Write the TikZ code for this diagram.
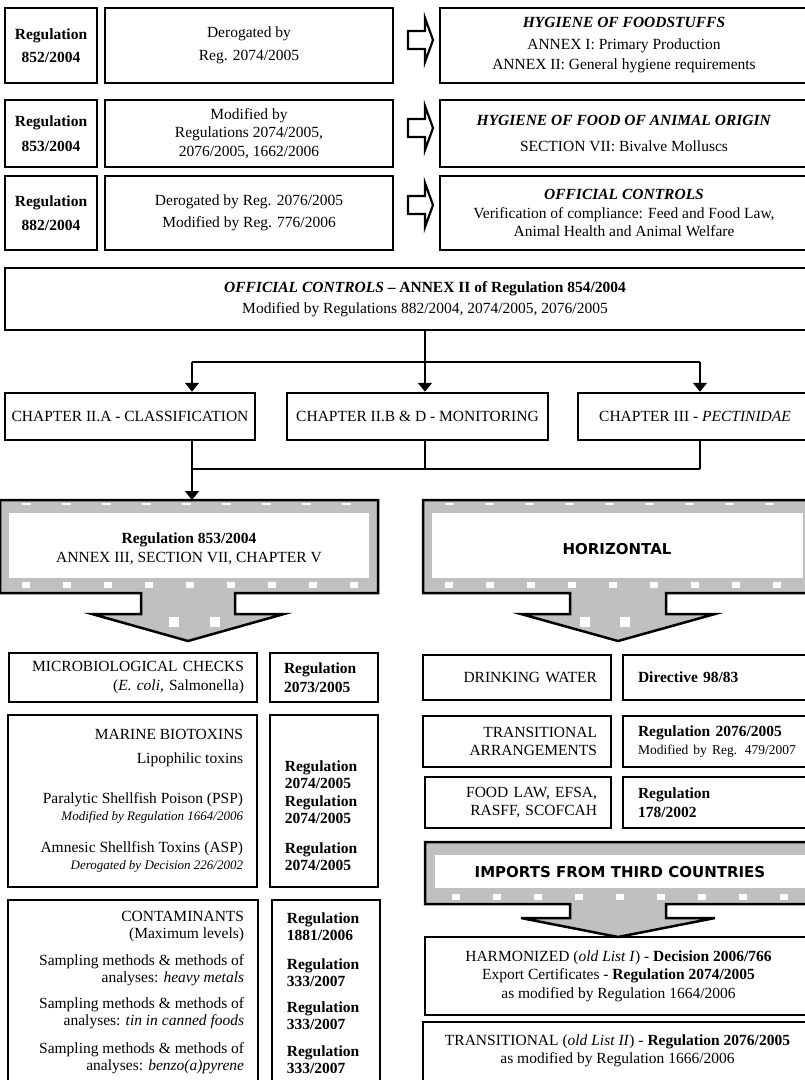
\documentclass[tikz,border=0pt]{standalone}
\usepackage{fontspec}
\setmainfont{Liberation Serif}
\newfontfamily\bannerfont{DejaVu Sans}
\usetikzlibrary{arrows.meta}
\definecolor{panelgray}{RGB}{192,192,192}

\tikzset{every picture/.style={line width=1.8pt}}
\tikzset{
  boxline/.style={draw, line width=2.5pt},
  box/.style={boxline, inner sep=0pt, align=center, font=\fontsize{15.5}{18.5}\selectfont},
  listbox/.style={boxline, inner xsep=13pt, inner ysep=0pt, align=right, font=\fontsize{15.5}{18.5}\selectfont},
  regcell/.style={boxline, inner xsep=14pt, inner ysep=0pt, align=left, font=\fontsize{15.5}{18.5}\selectfont\bfseries},
  listtext/.style={inner sep=0pt, align=right, font=\fontsize{15.5}{17}\selectfont},
  regtext/.style={inner sep=0pt, align=left, font=\fontsize{15.5}{17}\selectfont\bfseries},
  banner/.style={inner sep=0pt, align=center, font=\bannerfont\bfseries\fontsize{15}{18}\selectfont},
  hollow/.style={draw, line width=2.2pt, fill=white, line join=miter},
  grayshape/.style={draw, line width=2.5pt, fill=panelgray, line join=miter},
  speckle/.style={draw=white, line width=6pt, dash pattern=on 8pt off 33pt},
  fleck/.style={draw=white, line width=2pt, dash pattern=on 9pt off 31pt},
  downarrow/.style={-{Triangle[width=14pt,length=9pt]}},
}

\begin{document}
\begin{tikzpicture}[x=1pt,y=1pt,yscale=-1,xscale=1]
\useasboundingbox (0,0) rectangle (805,1080);

% Regulation rows
\node[box, minimum width=92pt, minimum height=75pt] (reg852) at (51,45.5) {\textbf{Regulation}\\[4pt]\textbf{852/2004}};
\node[box, minimum width=288pt, minimum height=75pt] (der852) at (249,45.5) {Derogated by\\[4pt]Reg. 2074/2005};
\node[box, minimum width=368pt, minimum height=75pt] (hyg852) at (624,45.5) {\textbf{\textit{HYGIENE OF FOODSTUFFS}}\\[3pt]ANNEX I: Primary Production\\[2pt]ANNEX II: General hygiene requirements};

\node[box, minimum width=92pt, minimum height=67pt] (reg853) at (51,133.5) {\textbf{Regulation}\\[7pt]\textbf{853/2004}};
\node[box, minimum width=288pt, minimum height=67pt] (der853) at (249,133.5) {Modified by\\Regulations 2074/2005,\\2076/2005, 1662/2006};
\node[box, minimum width=368pt, minimum height=67pt] (hyg853) at (624,133.5) {\textbf{\textit{HYGIENE OF FOOD OF ANIMAL ORIGIN}}\\[7pt]SECTION VII: Bivalve Molluscs};

\node[box, minimum width=92pt, minimum height=74pt] (reg882) at (51,213) {\textbf{Regulation}\\[5pt]\textbf{882/2004}};
\node[box, minimum width=288pt, minimum height=74pt] (der882) at (249,213) {Derogated by Reg. 2076/2005\\[3pt]Modified by Reg. 776/2006};
\node[box, minimum width=368pt, minimum height=74pt] (ctl882) at (624,213) {\textbf{\textit{OFFICIAL CONTROLS}}\\Verification of compliance: Feed and Food Law,\\Animal Health and Animal Welfare};

%Block arrows
\foreach \y in {40,128,205}
  \draw[hollow] (408,\y-9) -- (425,\y-9) -- (425,\y-22) -- (433,\y) -- (425,\y+22) -- (425,\y+9) -- (408,\y+9) -- cycle;

% Official controls and chapters
\node[box, minimum width=840pt, minimum height=62pt] (official) at (425,299) {\textbf{\textit{OFFICIAL CONTROLS}} \textbf{-- ANNEX II of Regulation 854/2004}\\[2pt]Modified by Regulations 882/2004, 2074/2005, 2076/2005};

\node[box, minimum width=250pt, minimum height=47pt] (chapA) at (130,416.5) {CHAPTER II.A - CLASSIFICATION};
\node[box, minimum width=261pt, minimum height=47pt] (chapBD) at (417.5,416.5) {CHAPTER II.B \& D - MONITORING};
\node[box, minimum width=234pt, minimum height=47pt] (chapIII) at (695,416.5) {CHAPTER III - \textit{PECTINIDAE}};

\coordinate (bus1a) at (192,362);
\coordinate (bus1b) at (425,362);
\coordinate (bus1c) at (700,362);
\draw (official.south) -- (bus1b);
\draw (bus1a) -- (bus1c);
\draw[downarrow] (bus1a) -- (bus1a |- chapA.north);
\draw[downarrow] (bus1b) -- (bus1b |- chapBD.north);
\draw[downarrow] (bus1c) -- (bus1c |- chapIII.north);

%Gray block arrows
\draw[grayshape] (0,500) -- (378,500) -- (378,593) -- (235,593) -- (235,614) -- (284,614) -- (188,641) -- (92,614) -- (141,614) -- (141,593) -- (0,593) -- cycle;
\fill[white] (9,513) rectangle (369,578);
\draw[grayshape] (423,500) -- (812,500) -- (812,593) -- (666,593) -- (666,614) -- (715,614) -- (618,641) -- (521,614) -- (570,614) -- (570,593) -- (423,593) -- cycle;
\fill[white] (432,513) rectangle (803,578);
\draw[grayshape] (425,842) -- (812,842) -- (812,904) -- (666,904) -- (666,918) -- (715,918) -- (618,937) -- (521,918) -- (570,918) -- (570,904) -- (425,904) -- cycle;
\fill[white] (435,855) rectangle (805,888);
\draw[fleck] (22,504) -- (370,504);
\draw[speckle] (22,585) -- (370,585);
\draw[fleck] (445,504) -- (803,504);
\draw[speckle] (445,585) -- (803,585);
\draw[speckle] (452,897) -- (805,897);
\foreach \x in {169,210,580,620}
  \fill[white] (\x,617) rectangle (\x+10,627);

\node[box, draw=none] (sec853) at (189,549) {\textbf{Regulation 853/2004}\\ANNEX III, SECTION VII, CHAPTER V};
\node[banner] (horiz) at (617,549) {HORIZONTAL};
\node[banner] (imports) at (620,872) {IMPORTS FROM THIRD COUNTRIES};

\coordinate (bus2a) at (192,469);
\coordinate (bus2b) at (425,469);
\coordinate (bus2c) at (700,469);
\coordinate (secA) at (192,500);
\draw (bus2b |- chapBD.south) -- (bus2b);
\draw (bus2c |- chapIII.south) -- (bus2c);
\draw (bus2a) -- (bus2c);
\draw[downarrow] (bus2a |- chapA.south) -- (secA);

% Left column
\node[listbox, text width=222pt, minimum height=49pt] (micro) at (133,677.5) {MICROBIOLOGICAL CHECKS\\(\textit{E. coli}, Salmonella)};
\node[regcell, text width=80pt, minimum height=49pt] (microreg) at (324,677.5) {Regulation\\2073/2005};

\node[boxline, minimum width=249pt, minimum height=172pt] (marine) at (132.5,801) {};
\node[boxline, minimum width=108pt, minimum height=172pt] (marinereg) at (324,801) {};
\node[listtext, anchor=east] (biotox) at (244,734) {MARINE BIOTOXINS};
\node[listtext, anchor=east] (lipo) at (244,760) {Lipophilic toxins};
\node[listtext, anchor=east] (psp) at (244,808) {Paralytic Shellfish Poison (PSP)\\{\fontsize{13}{15}\selectfont\itshape Modified by Regulation 1664/2006}};
\node[listtext, anchor=east] (asp) at (244,857) {Amnesic Shellfish Toxins (ASP)\\{\fontsize{13}{15}\selectfont\itshape Derogated by Decision 226/2002}};
\node[regtext, anchor=west] (rlipo) at (284,775) {Regulation\\2074/2005};
\node[regtext, anchor=west] (rpsp) at (284,810) {Regulation\\2074/2005};
\node[regtext, anchor=west] (rasp) at (284,857) {Regulation\\2074/2005};

\node[boxline, minimum width=250pt, minimum height=190pt] (contam) at (133,995) {};
\node[boxline, minimum width=108pt, minimum height=190pt] (contamreg) at (326,995) {};
\node[listtext, anchor=east] (maxlev) at (245,927) {CONTAMINANTS\\(Maximum levels)};
\node[listtext, anchor=east] (heavy) at (245,970) {Sampling methods \& methods of\\analyses: \textit{heavy metals}};
\node[listtext, anchor=east] (tin) at (245,1013) {Sampling methods \& methods of\\analyses: \textit{tin in canned foods}};
\node[listtext, anchor=east] (benzo) at (245,1058) {Sampling methods \& methods of\\analyses: \textit{benzo(a)pyrene}};
\node[regtext, anchor=west] (rmaxlev) at (286,927) {Regulation\\1881/2006};
\node[regtext, anchor=west] (rheavy) at (286,973) {Regulation\\333/2007};
\node[regtext, anchor=west] (rtin) at (286,1016) {Regulation\\333/2007};
\node[regtext, anchor=west] (rbenzo) at (286,1060) {Regulation\\333/2007};

% Right column
\node[listbox, inner xsep=14pt, text width=160pt, minimum height=45pt] (water) at (517,677.5) {DRINKING WATER};
\node[regcell, inner xsep=15pt, text width=159pt, minimum height=45pt] (waterreg) at (717.5,677.5) {Directive 98/83};
\node[listbox, inner xsep=14pt, text width=160pt, minimum height=51pt] (trans) at (517,741.5) {TRANSITIONAL\\ARRANGEMENTS};
\node[regcell, inner xsep=15pt, text width=159pt, minimum height=51pt] (transreg) at (717.5,741.5) {Regulation 2076/2005\\{\fontsize{13.5}{15}\selectfont\mdseries Modified by Reg. 479/2007}};
\node[listbox, inner xsep=14pt, text width=158pt, minimum height=51pt] (foodlaw) at (518,802.5) {FOOD LAW, EFSA,\\RASFF, SCOFCAH};
\node[regcell, inner xsep=15pt, text width=159pt, minimum height=51pt] (foodlawreg) at (717.5,802.5) {Regulation\\178/2002};

\node[box, minimum width=387pt, minimum height=78pt] (harmon) at (618.5,976) {HARMONIZED (\textit{old List I}) - \textbf{Decision 2006/766}\\Export Certificates - \textbf{Regulation 2074/2005}\\as modified by Regulation 1664/2006};
\node[boxline, minimum width=389pt, minimum height=70pt] (transit) at (617.5,1057) {};
\node[box, draw=none] (transittext) at (617.5,1051) {TRANSITIONAL (\textit{old List II}) - \textbf{Regulation 2076/2005}\\as modified by Regulation 1666/2006};

\end{tikzpicture}
\end{document}
